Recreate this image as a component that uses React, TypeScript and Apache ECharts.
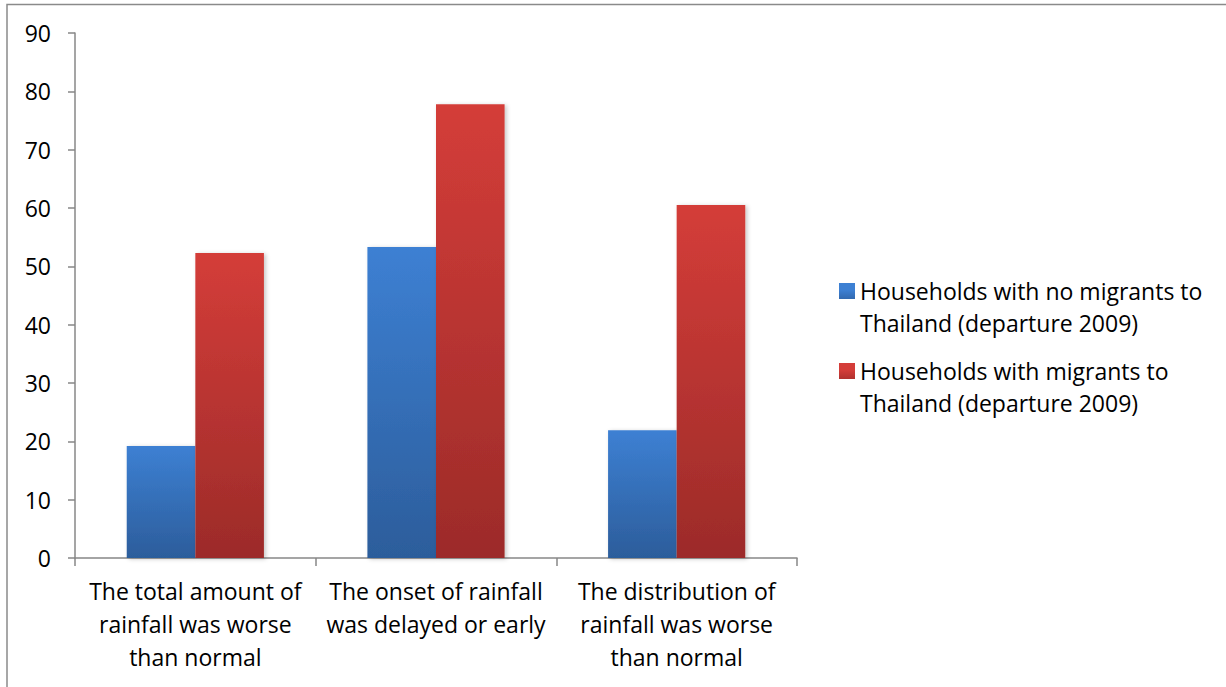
import React, { useEffect, useRef } from "react";
import * as echarts from "echarts";

// Survey answers: share of households (%) reporting each rainfall problem
const categories = [
  "The total amount of\nrainfall was worse\nthan normal",
  "The onset of rainfall\nwas delayed or early",
  "The distribution of\nrainfall was worse\nthan normal",
];
const seriesNames = [
  "Households with no migrants to\nThailand (departure 2009)",
  "Households with migrants to\nThailand (departure 2009)",
];
const noMigrants = [19.2, 53.3, 21.9];
const withMigrants = [52.3, 77.8, 60.5];
const yTicks = { min: 0, max: 90, interval: 10 };

const FONT = "'Open Sans', Lato, sans-serif";
const AXIS_COLOR = "#878787";
const BLUE = ["#3d80d3", "#2c5d9b"];
const RED = ["#d43d39", "#9c2b29"];

// Legend marker: a 16px square sitting beside the first of two text lines.
// The zero-length moves stretch the icon box to the full two-line height.
const LEGEND_ICON = "path://M0,0L0,0M0,8L16,8L16,24L0,24ZM16,64L16,64";

const grad = (top: string, bottom: string, from = 0, to = 1) =>
  new echarts.graphic.LinearGradient(0, 0, 0, 1, [
    { offset: from, color: top },
    { offset: to, color: bottom },
  ]);

export default function App() {
  const ref = useRef<HTMLDivElement>(null);

  useEffect(() => {
    if (!ref.current) return;
    const chart = echarts.init(ref.current, undefined, { renderer: "svg" });
    const barShadow = {
      shadowBlur: 4,
      shadowOffsetX: 2,
      shadowOffsetY: 1,
      shadowColor: "rgba(0,0,0,0.22)",
    };
    chart.setOption({
      animation: false,
      backgroundColor: "#ffffff",
      textStyle: { fontFamily: FONT },
      graphic: [
        {
          type: "rect",
          shape: { x: 7, y: 4.5, width: 1400, height: 900 },
          style: { fill: "none", stroke: "#8a8a8a", lineWidth: 1.5 },
          silent: true,
        },
      ],
      grid: { left: 75, right: 429, top: 33, bottom: 129, containLabel: false },
      legend: {
        orient: "vertical",
        left: 839,
        top: 275,
        padding: 0,
        itemGap: 16,
        itemWidth: 16,
        itemHeight: 64,
        icon: LEGEND_ICON,
        textStyle: {
          fontFamily: FONT,
          fontSize: 23,
          color: "#000",
          lineHeight: 32,
        },
        data: [
          { name: seriesNames[0], itemStyle: { color: grad(BLUE[0], BLUE[1], 0.125, 0.375) } },
          { name: seriesNames[1], itemStyle: { color: grad(RED[0], RED[1], 0.125, 0.375) } },
        ],
      },
      xAxis: {
        type: "category",
        data: categories,
        axisLine: { lineStyle: { color: AXIS_COLOR, width: 1.5 } },
        axisTick: { show: true, length: 8, lineStyle: { color: AXIS_COLOR, width: 1.5 } },
        axisLabel: {
          interval: 0,
          fontFamily: FONT,
          fontSize: 23,
          color: "#000",
          lineHeight: 33,
          margin: 16,
        },
      },
      yAxis: {
        type: "value",
        min: yTicks.min,
        max: yTicks.max,
        interval: yTicks.interval,
        axisLine: { show: true, lineStyle: { color: AXIS_COLOR, width: 1.5 } },
        axisTick: { show: true, length: 7, lineStyle: { color: AXIS_COLOR, width: 1.5 } },
        splitLine: { show: false },
        axisLabel: { fontFamily: FONT, fontSize: 23, color: "#000", margin: 24 },
      },
      series: [
        {
          name: seriesNames[0],
          type: "bar",
          data: noMigrants,
          barGap: "0%",
          barCategoryGap: "43%",
          itemStyle: { color: grad(BLUE[0], BLUE[1]), ...barShadow },
        },
        {
          name: seriesNames[1],
          type: "bar",
          data: withMigrants,
          barGap: "0%",
          barCategoryGap: "43%",
          itemStyle: { color: grad(RED[0], RED[1]), ...barShadow },
        },
      ],
    });
    return () => chart.dispose();
  }, []);

  return (
    <div
      ref={ref}
      style={{ position: "absolute", left: 0, top: 0, width: 1226, height: 687 }}
    />
  );
}
